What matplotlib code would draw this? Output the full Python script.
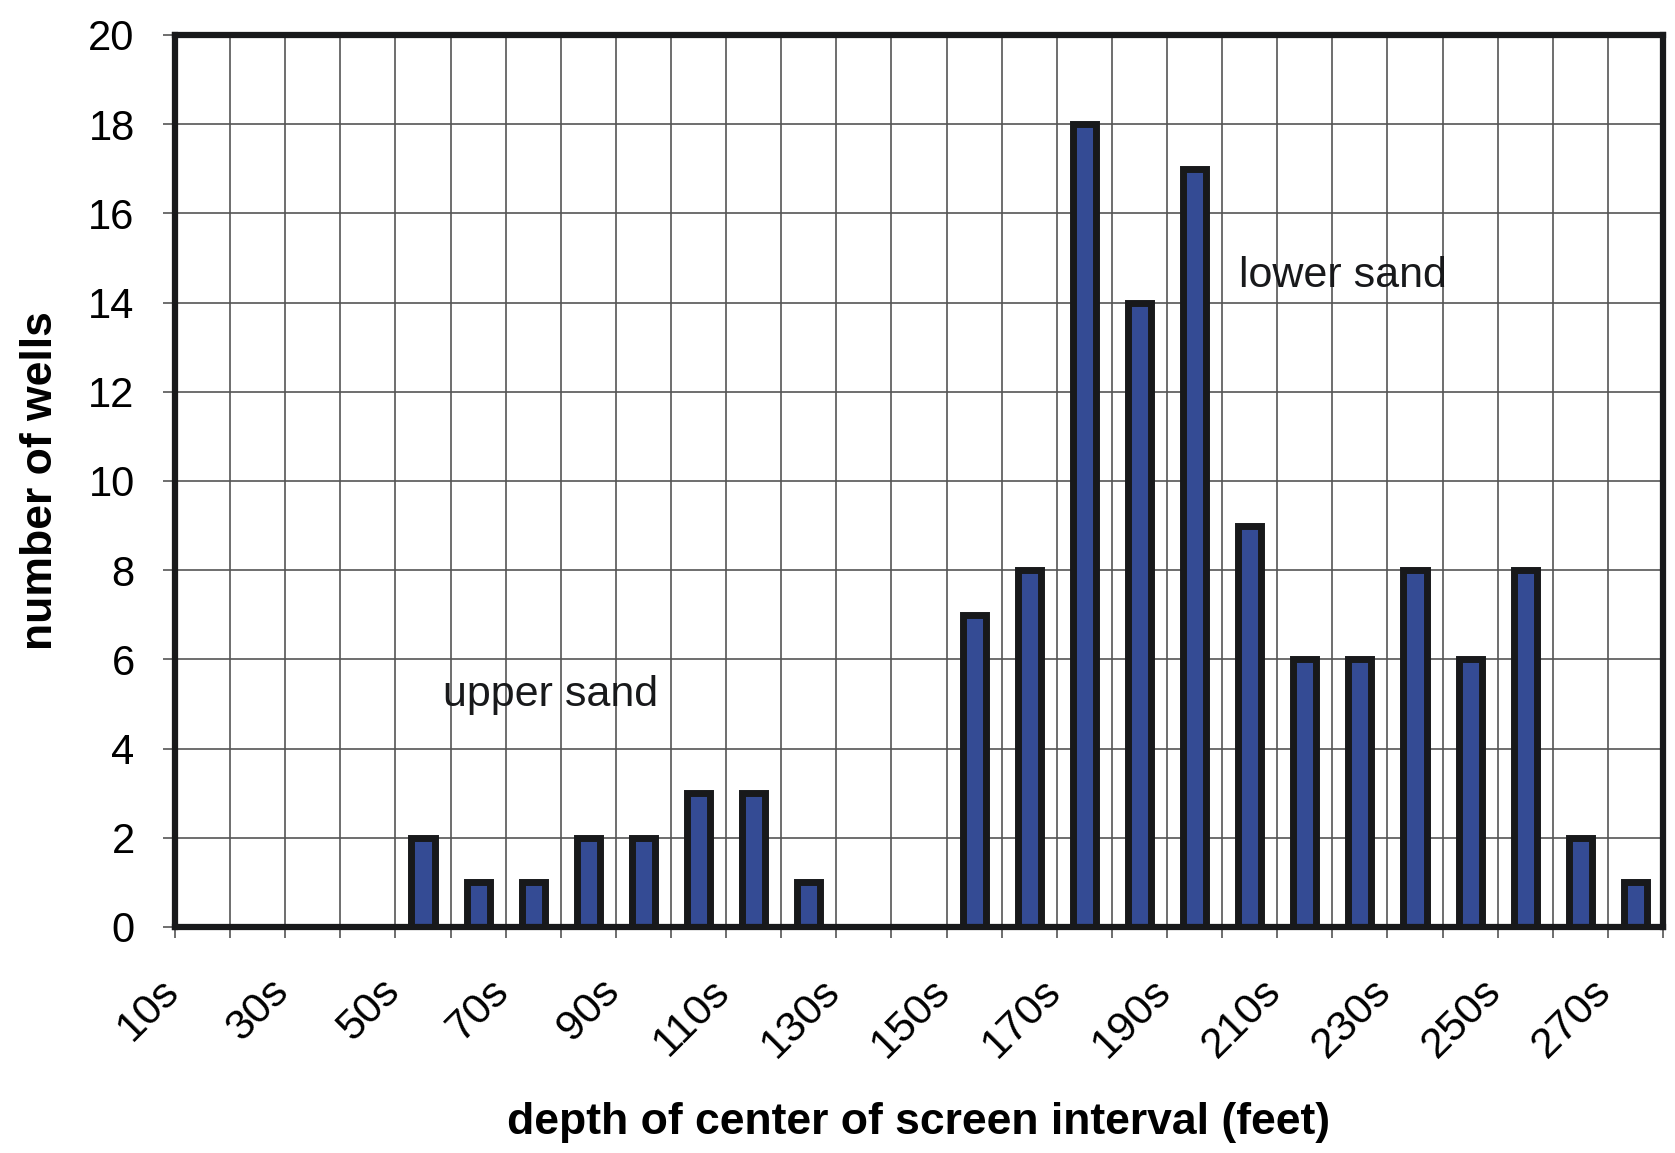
import matplotlib
matplotlib.use("Agg")
import matplotlib.pyplot as plt
import matplotlib.transforms as mtransforms
import numpy as np

plt.rcParams['font.family'] = ['Liberation Sans', 'DejaVu Sans']

categories = [f"{d}s" for d in range(10, 280, 10)]
wells = [0, 0, 0, 0, 2, 1, 1, 2, 2, 3, 3, 1, 0, 0, 7, 8, 18, 14, 17, 9, 6, 6, 8, 6, 8, 2, 1]
tick_labels = categories[::2]
annotations = [("upper sand", 4.36, 5.2), ("lower sand", 18.8, 14.6)]

W, H = 1675, 1153
fig = plt.figure(figsize=(W / 100, H / 100), dpi=100)
ax = fig.add_axes([175 / W, 1 - 927 / H, (1663 - 175) / W, (927 - 35) / H])

x = np.arange(len(categories))
ax.bar(x, wells, width=0.42, color="#344b94", edgecolor="#18191b", linewidth=5.0, zorder=2)

ax.set_xlim(-0.5, len(categories) - 0.5)
ax.set_ylim(0, 20)
ax.set_yticks(np.arange(0, 21, 2))
ax.tick_params(axis='y', labelsize=30, length=9, width=1.2, color="#555555", pad=20)

# category boundaries: minor ticks + vertical grid
ax.set_xticks(np.arange(-0.5, len(categories), 1.0), minor=True)
ax.set_xticks(x[::2])
ax.set_xticklabels(tick_labels)
ax.tick_params(axis='x', which='major', length=0, labelsize=31, pad=42)
ax.tick_params(axis='x', which='minor', length=8, width=1.2, color="#555555", direction='out')
ax.grid(True, which='minor', axis='x', color="#555555", linewidth=1.2, zorder=0)
ax.grid(True, which='major', axis='y', color="#555555", linewidth=1.2, zorder=0)
ax.set_axisbelow(True)

offset = mtransforms.ScaledTranslation(-0.30, 0, fig.dpi_scale_trans)
for lab in ax.get_xticklabels():
    lab.set_rotation(45)
    lab.set_ha('right')
    lab.set_va('center')
    lab.set_rotation_mode('anchor')
    lab.set_transform(lab.get_transform() + offset)

for s in ax.spines.values():
    s.set_linewidth(4.5)
    s.set_color("#18191b")
    s.set_zorder(3)

for txt, tx, ty in annotations:
    ax.text(tx, ty, txt, fontsize=31, ha='left', va='center', color="#18191b")

ax.set_ylabel("number of wells", fontsize=32, fontweight='bold', labelpad=20)
ax.set_xlabel("depth of center of screen interval (feet)", fontsize=32, fontweight='bold', labelpad=26)

fig.savefig("out.png", dpi=100)
